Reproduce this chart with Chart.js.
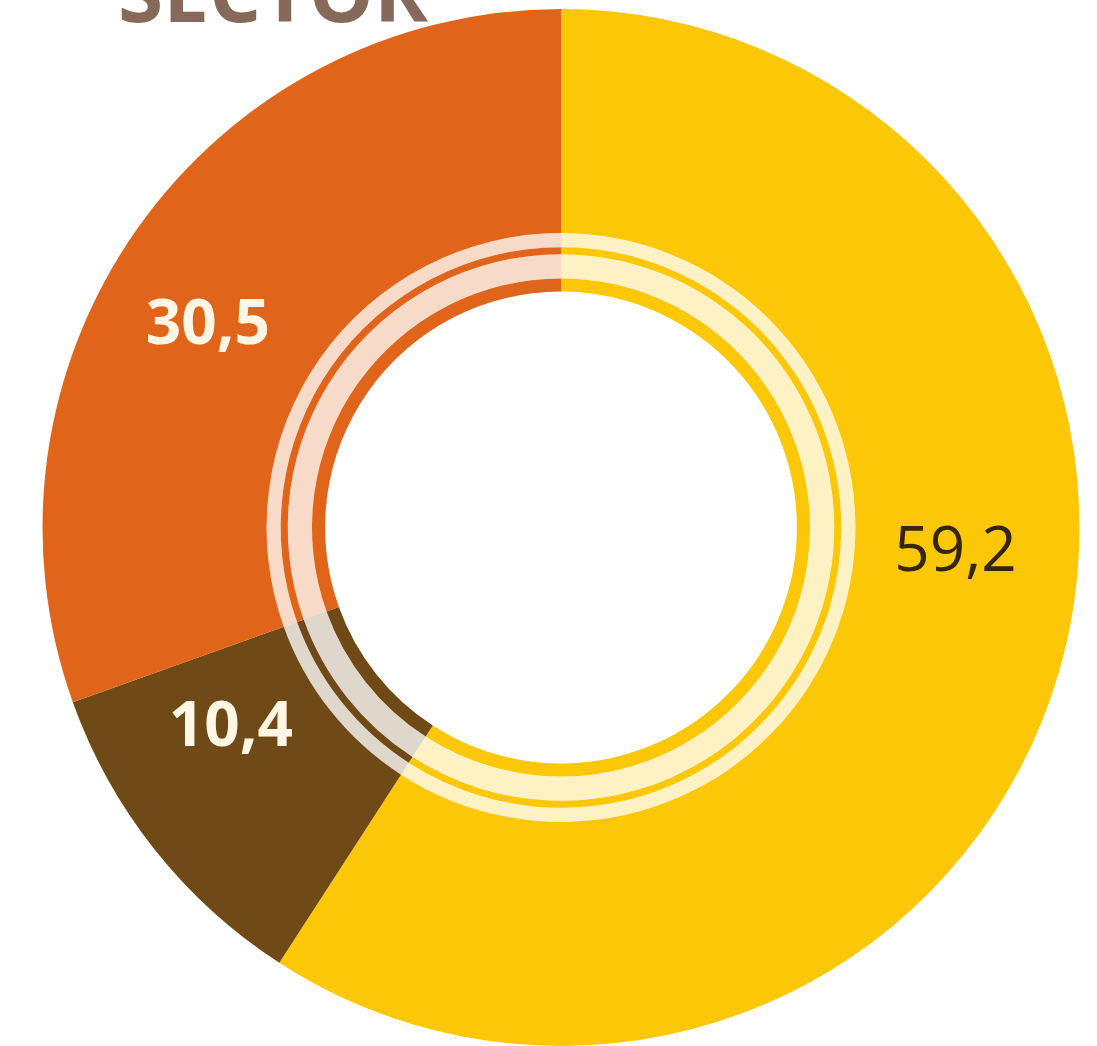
<!DOCTYPE html>
<html>
<head>
<meta charset="utf-8">
<script src="https://cdn.jsdelivr.net/npm/chart.js@4.4.1/dist/chart.umd.min.js"></script>
<style>
  html, body { margin: 0; padding: 0; background: #ffffff; overflow: hidden; }
  #wrap { width: 1097px; height: 1046px; position: relative; }
</style>
</head>
<body>
<div id="wrap"><canvas id="donutChart"></canvas></div>
<script>
// datos del gráfico
const categorias = ['Sector 1', 'Sector 2', 'Sector 3'];
const valores = [59.2, 10.4, 30.5];
const etiquetas = ['59,2', '10,4', '30,5'];
const colores = ['#FBC707', '#704A16', '#E0651B'];
const coloresClaros = ['rgba(251,199,7,0.24)', 'rgba(112,74,22,0.22)', 'rgba(224,101,27,0.24)'];
const coloresTexto = ['#33260c', '#fff6e6', '#fff6e6'];
const pesosTexto = ['500', 'bold', 'bold'];
// ubicacion de la etiqueta dentro de cada arco (fraccion del angulo y del grosor)
const fracAngulo = [0.44, 0.69, 0.45];
const fracRadio = [0.45, 0.41, 0.5];

// titulo cortado arriba + etiquetas de valores
const rotulos = {
    id: 'rotulos',
    afterDatasetsDraw(chart) {
        const ctx = chart.ctx;
        ctx.save();
        ctx.fillStyle = '#86695A';
        ctx.font = "bold 82px 'Open Sans', sans-serif";
        ctx.textAlign = 'left';
        ctx.textBaseline = 'alphabetic';
        ctx.fillText('SECTOR', 118, 22);

        const arcs = chart.getDatasetMeta(0).data;
        arcs.forEach(function (arc, i) {
            const p = arc.getProps(['x', 'y', 'startAngle', 'endAngle', 'innerRadius', 'outerRadius'], true);
            const ang = p.startAngle + (p.endAngle - p.startAngle) * fracAngulo[i];
            const rad = p.innerRadius + (p.outerRadius - p.innerRadius) * fracRadio[i];
            ctx.fillStyle = coloresTexto[i];
            ctx.font = pesosTexto[i] + " 62px 'Open Sans', sans-serif";
            ctx.textAlign = 'center';
            ctx.textBaseline = 'middle';
            ctx.fillText(etiquetas[i], p.x + Math.cos(ang) * rad, p.y + Math.sin(ang) * rad);
        });
        ctx.restore();
    }
};

const ctxDonut = document.getElementById('donutChart').getContext('2d');
const donutChart = new Chart(ctxDonut, {
    type: 'doughnut',
    data: {
        labels: categorias,
        datasets: [
            { data: valores, backgroundColor: colores, weight: 222 },
            { data: valores, backgroundColor: coloresClaros, weight: 14 },
            { data: valores, backgroundColor: colores, weight: 7 },
            { data: valores, backgroundColor: coloresClaros, weight: 24 },
            { data: valores, backgroundColor: colores, weight: 13 }
        ]
    },
    options: {
        responsive: true,
        maintainAspectRatio: false,
        animation: false,
        cutout: '45.5%',
        borderWidth: 0,
        hoverOffset: 0,
        layout: {
            padding: { left: 39, right: 14, top: 9, bottom: 0 }
        },
        elements: {
            arc: { borderWidth: 0 }
        },
        plugins: {
            legend: { display: false },
            tooltip: { enabled: false }
        }
    },
    plugins: [rotulos]
});
</script>
</body>
</html>
